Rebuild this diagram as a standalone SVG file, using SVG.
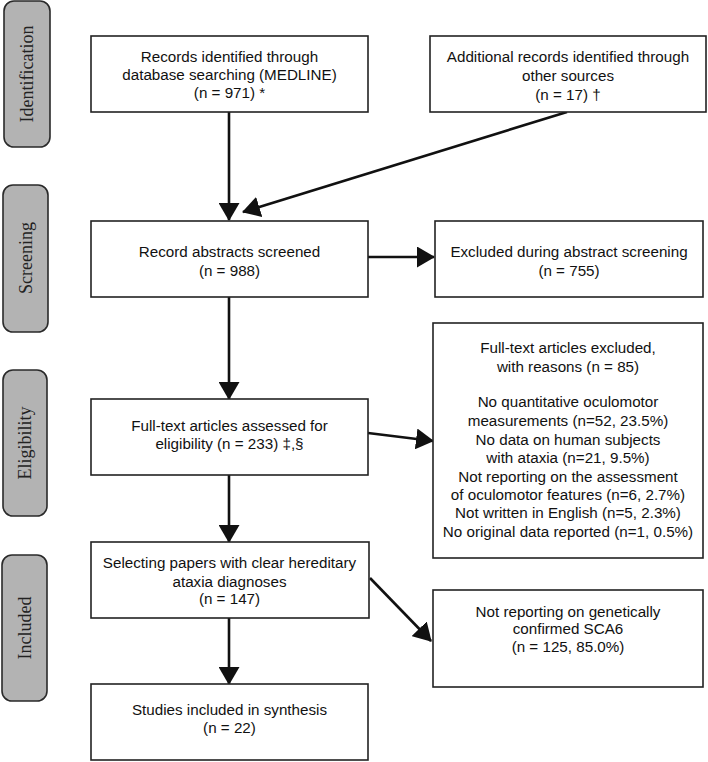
<svg xmlns="http://www.w3.org/2000/svg" width="708" height="762" viewBox="0 0 708 762">
<style>
.box{fill:#fff;stroke:#222;stroke-width:1.6}
.tab{fill:#b3b3b3;stroke:#2a2a2a;stroke-width:1.6}
.t{font-family:"Liberation Sans",Arial,sans-serif;font-size:15.2px;fill:#111;text-anchor:middle}
.tl{font-family:"Liberation Serif","Times New Roman",serif;font-size:18px;fill:#222;text-anchor:middle}
.c{stroke:#111;stroke-width:2.6;fill:none;marker-end:url(#ah)}
</style>
<defs>
<marker id="ah" markerUnits="userSpaceOnUse" markerWidth="18" markerHeight="21" refX="17" refY="10.5" orient="auto">
<path d="M0,0 L18,10.5 L0,21 z" fill="#111"/>
</marker>
</defs>
<rect width="708" height="762" fill="#fff"/>
<g id="tab-identification"><rect class="tab" x="4" y="1" width="46" height="146" rx="10"/><text class="tl" transform="translate(33,74) rotate(-90)">Identification</text></g>
<g id="tab-screening"><rect class="tab" x="3" y="185" width="45" height="147" rx="10"/><text class="tl" transform="translate(32,258) rotate(-90)">Screening</text></g>
<g id="tab-eligibility"><rect class="tab" x="3" y="370" width="44" height="146" rx="10"/><text class="tl" transform="translate(31,443) rotate(-90)">Eligibility</text></g>
<g id="tab-included"><rect class="tab" x="2" y="555" width="45" height="146" rx="10"/><text class="tl" transform="translate(31,628) rotate(-90)">Included</text></g>

<g id="connectors">
<line class="c" x1="229" y1="112" x2="229" y2="220"/>
<line class="c" x1="567" y1="112" x2="243" y2="212"/>
<line class="c" x1="368" y1="257" x2="434" y2="257"/>
<line class="c" x1="229" y1="297" x2="229" y2="399"/>
<line class="c" x1="368" y1="433" x2="433" y2="441"/>
<line class="c" x1="229" y1="475" x2="229" y2="542"/>
<line class="c" x1="370" y1="578" x2="431" y2="641"/>
<line class="c" x1="229" y1="618" x2="229" y2="684"/>
</g>

<g id="n1"><rect class="box" x="91" y="36" width="277" height="76"/>
<text class="t" x="229.5" y="62">Records identified through</text>
<text class="t" x="229.5" y="80">database searching (MEDLINE)</text>
<text class="t" x="229.5" y="98">(n = 971) *</text></g>

<g id="n2"><rect class="box" x="430" y="36" width="276" height="76"/>
<text class="t" x="568" y="62">Additional records identified through</text>
<text class="t" x="568" y="81">other sources</text>
<text class="t" x="568" y="100">(n = 17) †</text></g>

<g id="n3"><rect class="box" x="91" y="221" width="277" height="76"/>
<text class="t" x="229.5" y="257">Record abstracts screened</text>
<text class="t" x="229.5" y="276">(n = 988)</text></g>

<g id="n4"><rect class="box" x="435" y="221" width="268" height="76"/>
<text class="t" x="569" y="257">Excluded during abstract screening</text>
<text class="t" x="569" y="276">(n = 755)</text></g>

<g id="n5"><rect class="box" x="91" y="399" width="277" height="76"/>
<text class="t" x="229.5" y="431">Full-text articles assessed for</text>
<text class="t" x="229.5" y="449">eligibility (n = 233) ‡,§</text></g>

<g id="n6"><rect class="box" x="433" y="323" width="270" height="235"/>
<text class="t" x="568" y="353">Full-text articles excluded,</text>
<text class="t" x="568" y="372">with reasons (n = 85)</text>
<text class="t" x="568" y="407">No quantitative oculomotor</text>
<text class="t" x="568" y="426">measurements (n=52, 23.5%)</text>
<text class="t" x="568" y="445">No data on human subjects</text>
<text class="t" x="568" y="463">with ataxia (n=21, 9.5%)</text>
<text class="t" x="568" y="482">Not reporting on the assessment</text>
<text class="t" x="568" y="500">of oculomotor features (n=6, 2.7%)</text>
<text class="t" x="568" y="518">Not written in English (n=5, 2.3%)</text>
<text class="t" x="568" y="537">No original data reported (n=1, 0.5%)</text></g>

<g id="n7"><rect class="box" x="91" y="542" width="278" height="76"/>
<text class="t" x="229.5" y="568">Selecting papers with clear hereditary</text>
<text class="t" x="229.5" y="587">ataxia diagnoses</text>
<text class="t" x="229.5" y="604">(n = 147)</text></g>

<g id="n8"><rect class="box" x="433" y="590" width="270" height="97"/>
<text class="t" x="568" y="617">Not reporting on genetically</text>
<text class="t" x="568" y="634">confirmed SCA6</text>
<text class="t" x="568" y="652">(n = 125, 85.0%)</text></g>

<g id="n9"><rect class="box" x="91" y="684" width="277" height="76"/>
<text class="t" x="229.5" y="715">Studies included in synthesis</text>
<text class="t" x="229.5" y="733">(n = 22)</text></g>
</svg>
